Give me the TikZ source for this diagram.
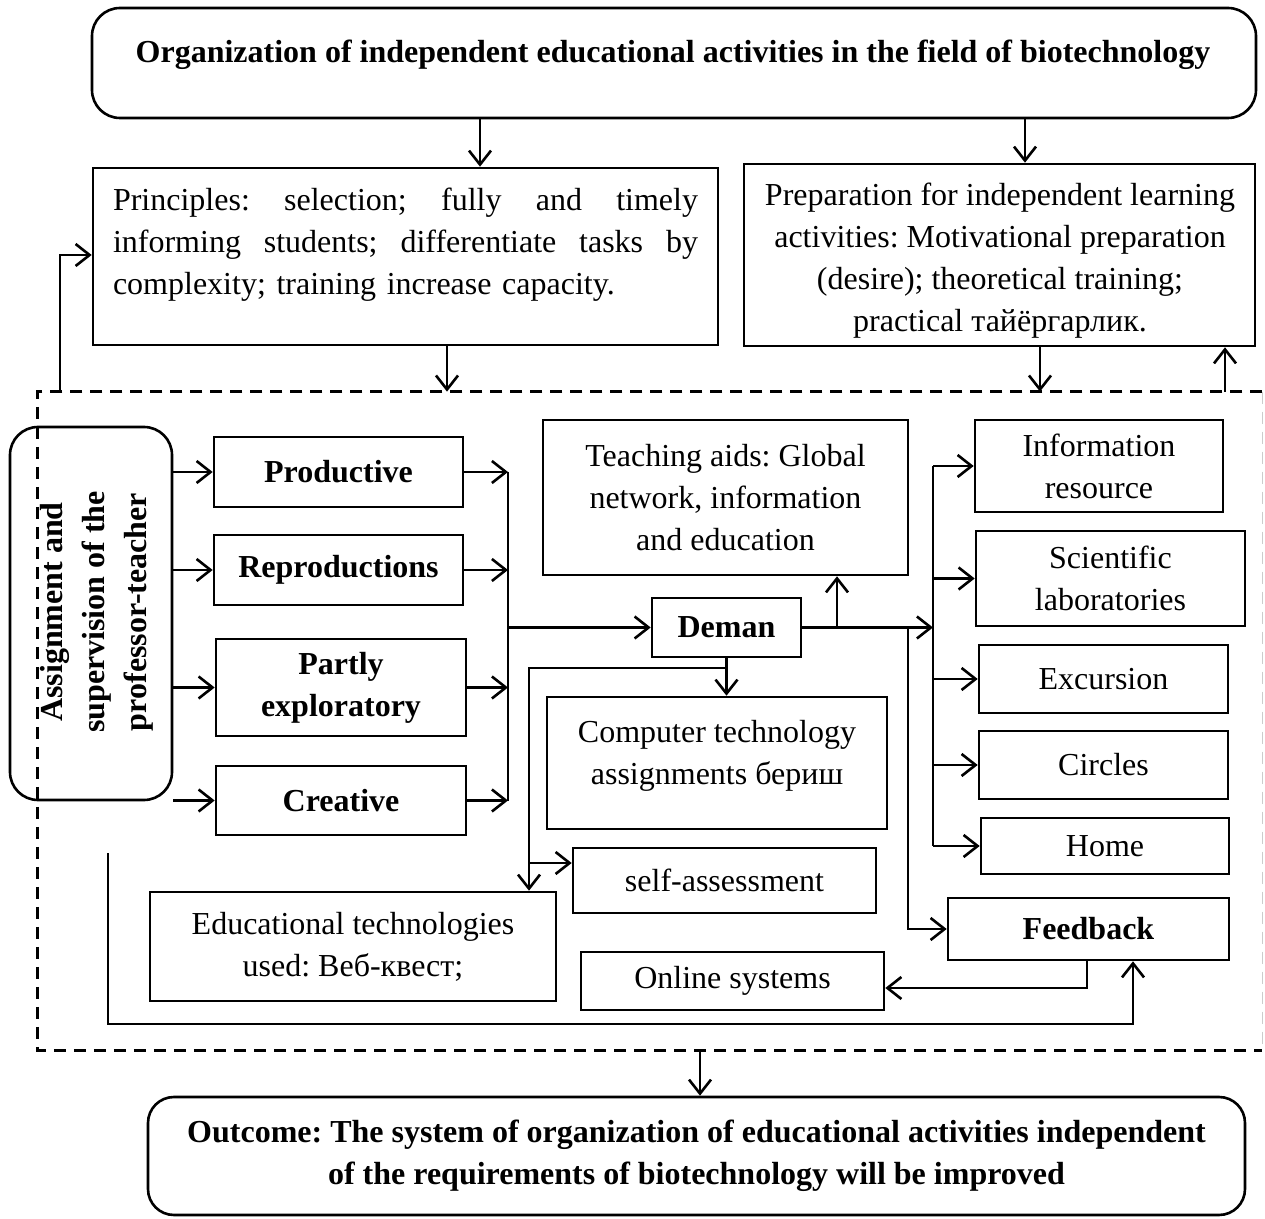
\documentclass[tikz,border=0pt]{standalone}
\usepackage{fontspec}
\setmainfont{Liberation Serif}
\usetikzlibrary{arrows.meta}
\begin{document}
\frenchspacing
\begin{tikzpicture}[x=0.5pt,y=-0.5pt,
  every node/.style={font=\fontsize{16}{21}\selectfont\frenchspacing, align=center, inner sep=0pt},
  box/.style={draw, line width=1.3pt},
  rbox/.style={box, rounded corners=14pt},
  bold/.style={font=\fontsize{16}{21}\selectfont\frenchspacing\bfseries},
  line/.style={line width=1.3pt},
  arr/.style={line, -{Straight Barb[length=7pt,width=11pt,line width=1.3pt]}},
  frameline/.style={line width=1.3pt, dash pattern=on 6pt off 4pt}
]
\useasboundingbox (0,0) rectangle (1265,1219);

% top heading
\node[rbox, minimum width=582pt, minimum height=55pt] (titlebox) at (674,63) {};
\node[bold] (titletext) at (673,55) {Organization of independent educational activities in the field of biotechnology};

% principles and preparation
\node[box, minimum width=312.5pt, minimum height=88.5pt] (principles) at (405.5,256.5) {};
\node[text width=292.5pt, align=left] (principlestext) at (405.5,245)
  {\makebox[292.5pt][l]{Principles:\hfill selection;\hfill fully\hfill and\hfill timely}\\
   \makebox[292.5pt][l]{informing\hfill students;\hfill differentiate\hfill tasks\hfill by}\\
   complexity; training increase capacity.};
\node[box, minimum width=255.5pt, minimum height=91pt] (prep) at (999.5,255) {};
\node (preptext) at (1000,261)
  {Preparation for independent learning\\activities: Motivational preparation\\(desire); theoretical training;\\practical тайёргарлик.};

% teacher column
\node[rbox, minimum width=81pt, minimum height=186.5pt] (assign) at (91,613.5) {};
\node[bold, rotate=90] (assigntext) at (97,612)
  {Assignment and\\supervision of the\\professor-teacher};

% kinds of tasks
\node[box, bold, minimum width=124.5pt, minimum height=35pt] (productive) at (338.5,472) {Productive};
\node[box, bold, minimum width=124.5pt, minimum height=35pt] (reproductions) at (338.5,570) {Reproductions};
\node[box, bold, minimum width=125pt, minimum height=48.5pt] (partly) at (341,687.5) {Partly\\exploratory};
\node[box, bold, minimum width=125pt, minimum height=34.5pt] (creative) at (341,800.5) {Creative};

% central part
\node[box, bold, minimum width=74.5pt, minimum height=29.5pt] (deman) at (726.5,627.5) {Deman};
\node[box, minimum width=182.5pt, minimum height=77.5pt] (aids) at (725.5,497.5)
  {Teaching aids: Global\\network, information\\and education};
\node[box, minimum width=170pt, minimum height=66pt] (computer) at (717,763) {};
\node (computertext) at (717,756) {Computer technology\\assignments бериш};
\node[box, minimum width=151.5pt, minimum height=32.5pt] (selfassess) at (724.5,880.5) {self-assessment};
\node[box, minimum width=203pt, minimum height=54.5pt] (edutech) at (353,946.5)
  {Educational technologies\\used: Веб-квест;};
\node[box, minimum width=151.5pt, minimum height=29pt] (online) at (732.5,981) {Online systems};
\node[box, bold, minimum width=140.5pt, minimum height=31pt] (feedback) at (1088.5,929) {Feedback};

% forms of work
\node[box, minimum width=124pt, minimum height=46pt] (info) at (1099,466) {Information\\resource};
\node[box, minimum width=134.5pt, minimum height=47.5pt] (scilab) at (1110.5,578.5) {Scientific\\laboratories};
\node[box, minimum width=124.5pt, minimum height=34pt] (excursion) at (1103.5,679) {Excursion};
\node[box, minimum width=124.5pt, minimum height=34pt] (circles) at (1103.5,765) {Circles};
\node[box, minimum width=124pt, minimum height=28pt] (home) at (1105,846) {Home};

% result
\node[rbox, bold, rounded corners=13pt, minimum width=548.5pt, minimum height=59pt] (outcome) at (696.5,1156)
  {Outcome: The system of organization of educational activities independent\\of the requirements of biotechnology will be improved};

% dashed frame of the working stage
\node[minimum width=612pt, minimum height=329pt] (frame) at (650,721) {};
\draw[frameline] (frame.north east) -- (frame.north west) -- (frame.south west) -- (frame.south east);
\draw[line width=0.8pt, gray!40, dash pattern=on 6pt off 4pt] (frame.north east) -- (frame.south east);

% junction points
\coordinate (lbus) at (508,0 |- productive.east);
\coordinate (rbus) at (933,0 |- info.west);
\coordinate (split) at (deman.south |- 0,668);
\coordinate (loopstart) at (108,853);

% connectors
\draw[arr] (480,0 |- titlebox.south) -- (480,0 |- principles.north);
\draw[arr] (1025,0 |- titlebox.south) -- (1025,0 |- prep.north);
\draw[arr] (447,0 |- principles.south) -- (447,0 |- frame.north);
\draw[arr] (1040,0 |- prep.south) -- (1040,0 |- frame.north);
\draw[arr] (1225,0 |- frame.north) -- (1225,0 |- prep.south);
\draw[arr] (60,0 |- frame.north) |- (principles.west |- 0,255);

\foreach \n in {productive,reproductions,partly,creative}{
  \draw[arr] (assign.east |- \n.west) -- (\n.west);
  \draw[arr] (\n.east) -- (lbus |- \n.east);
}
\draw[line] (lbus) -- (lbus |- creative.east);
\draw[arr] (lbus |- deman.west) -- (deman.west);

\draw[arr] (deman.east) -- (rbus |- deman.east);
\draw[arr] (837,0 |- deman.east) -- (837,0 |- aids.south);
\draw[line] (rbus) -- (rbus |- home.west);
\foreach \n in {info,scilab,excursion,circles,home}{
  \draw[arr] (rbus |- \n.west) -- (\n.west);
}
\draw[arr] (908,0 |- deman.east) |- (feedback.west);

\draw[arr] (deman.south) -- (deman.south |- computer.north);
\draw[arr] (split) -| (529,0 |- edutech.north);
\draw[arr] (529,863) -- (selfassess.west |- 0,863);

\draw[arr] (1087,0 |- feedback.south) |- (online.east |- 0,988);
\draw[arr] (loopstart) |- (1133,1024) -- (1133,0 |- feedback.south);

\draw[arr] (700,0 |- frame.south) -- (700,0 |- outcome.north);
\end{tikzpicture}
\end{document}
